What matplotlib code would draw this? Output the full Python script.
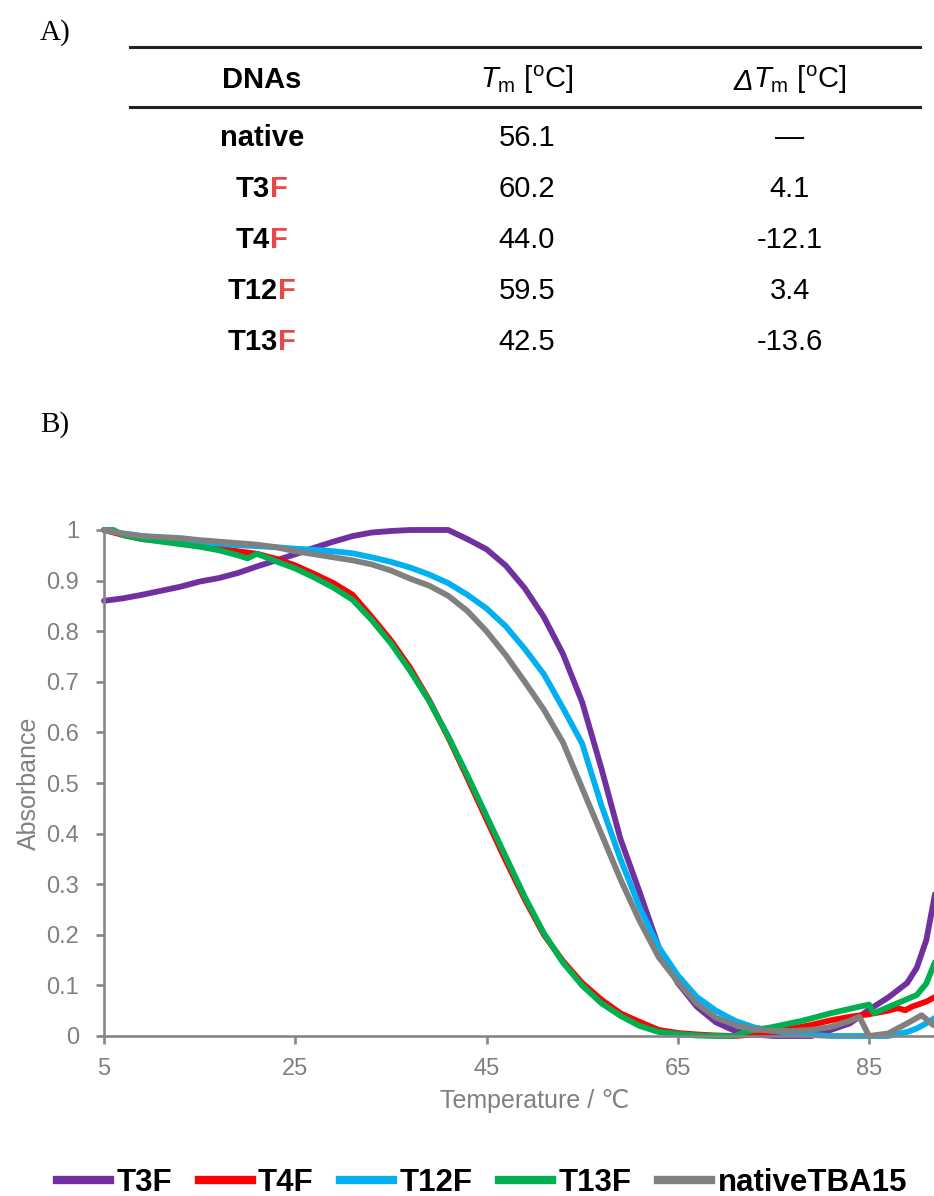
import matplotlib
matplotlib.use('Agg')
import matplotlib.pyplot as plt
from matplotlib.lines import Line2D
from matplotlib.text import Annotation

plt.rcParams['font.family'] = ['Liberation Sans', 'DejaVu Sans']
plt.rcParams['mathtext.fontset'] = 'custom'
plt.rcParams['mathtext.rm'] = 'Liberation Sans'
plt.rcParams['mathtext.it'] = 'Liberation Sans:italic'

# table (A)
dna_names = ['native', 'T3', 'T4', 'T12', 'T13']
dna_mod = ['', 'F', 'F', 'F', 'F']
tm_values = ['56.1', '60.2', '44.0', '59.5', '42.5']
dtm_values = ['\u2014', '4.1', '-12.1', '3.4', '-13.6']

# melting curves (B): temperature / absorbance
t3f_t = [5, 7, 9, 11, 13, 15, 17, 19, 21, 23, 25, 27, 29, 31, 33, 35, 37, 39, 41, 43, 45, 47, 49, 51,
         53, 55, 57, 59, 61, 63, 65, 67, 69, 71, 73, 75, 77, 79, 81, 83, 85, 87, 89, 90, 91, 91.5, 92]
t3f_a = [0.86, 0.865, 0.872, 0.88, 0.888, 0.898, 0.905, 0.915, 0.928, 0.94, 0.952, 0.965, 0.977, 0.988,
         0.995, 0.998, 1.0, 1.0, 1.0, 0.982, 0.962, 0.93, 0.885, 0.828, 0.755, 0.66, 0.53, 0.39, 0.285,
         0.176, 0.105, 0.058, 0.027, 0.01, 0.003, 0.0, 0.0, 0.0, 0.012, 0.025, 0.052, 0.076, 0.105, 0.135,
         0.19, 0.24, 0.29]

t4f_t = [5, 7, 9, 11, 13, 15, 17, 19, 21, 23, 25, 27, 29, 31, 33, 35, 37, 39, 41, 43, 45, 47, 49, 51,
         53, 55, 57, 59, 61, 63, 65, 67, 69, 71, 73, 75, 77, 79, 81, 83, 85, 87, 88, 88.8, 89.5, 91, 92]
t4f_a = [1.0, 0.99, 0.982, 0.979, 0.974, 0.97, 0.964, 0.958, 0.953, 0.943, 0.93, 0.913, 0.895, 0.872,
         0.828, 0.782, 0.728, 0.664, 0.59, 0.51, 0.428, 0.347, 0.27, 0.2, 0.148, 0.105, 0.072, 0.045,
         0.028, 0.012, 0.006, 0.003, 0.001, 0.0, 0.003, 0.008, 0.015, 0.022, 0.031, 0.038, 0.043, 0.05,
         0.055, 0.051, 0.058, 0.068, 0.078]

t12f_t = [5, 7, 9, 11, 13, 15, 17, 19, 21, 23, 25, 27, 29, 31, 33, 35, 37, 39, 41, 43, 45, 47, 49, 51,
          53, 55, 57, 59, 61, 63, 65, 67, 69, 71, 73, 75, 77, 79, 81, 83, 85, 87, 88, 89, 90, 91, 92]
t12f_a = [1.0, 0.993, 0.988, 0.984, 0.98, 0.976, 0.973, 0.97, 0.968, 0.966, 0.963, 0.961, 0.958, 0.954,
          0.946, 0.937, 0.926, 0.912, 0.895, 0.872, 0.845, 0.81, 0.765, 0.715, 0.648, 0.578, 0.457,
          0.35, 0.255, 0.176, 0.12, 0.077, 0.05, 0.03, 0.017, 0.01, 0.005, 0.002, 0.0, 0.0, 0.0, 0.0,
          0.004, 0.008, 0.015, 0.025, 0.037]

t13f_t = [5, 6, 7, 9, 11, 13, 15, 17, 19, 20, 21, 23, 25, 27, 29, 31, 33, 35, 37, 39, 41, 43, 45, 47,
          49, 51, 53, 55, 57, 59, 61, 63, 65, 67, 69, 71, 72, 75, 78, 81, 84, 85, 85.5, 88, 90, 91, 91.7, 92]
t13f_a = [1.0, 1.0, 0.99, 0.982, 0.977, 0.972, 0.967, 0.96, 0.95, 0.944, 0.953, 0.938, 0.924, 0.906,
          0.886, 0.862, 0.822, 0.776, 0.722, 0.662, 0.592, 0.515, 0.435, 0.355, 0.275, 0.203, 0.145,
          0.1, 0.065, 0.04, 0.02, 0.008, 0.004, 0.001, 0.0, 0.0, 0.008, 0.018, 0.03, 0.045, 0.058, 0.062,
          0.045, 0.065, 0.081, 0.104, 0.137, 0.15]

native_t = [5, 7, 9, 11, 13, 15, 17, 19, 21, 23, 25, 27, 29, 31, 33, 35, 37, 39, 41, 43, 45, 47, 49, 51,
            53, 55, 57, 59, 61, 63, 65, 67, 69, 71, 73, 75, 77, 79, 81, 83, 84, 85, 87, 89, 90.5, 91.7, 92]
native_a = [1.0, 0.993, 0.988, 0.986, 0.984, 0.98, 0.977, 0.974, 0.971, 0.966, 0.958, 0.952, 0.946, 0.94,
            0.932, 0.92, 0.904, 0.89, 0.87, 0.84, 0.8, 0.753, 0.7, 0.645, 0.58, 0.49, 0.4, 0.31, 0.228,
            0.156, 0.107, 0.064, 0.036, 0.022, 0.013, 0.01, 0.01, 0.012, 0.018, 0.03, 0.038, 0.0, 0.005,
            0.025, 0.041, 0.022, 0.02]

series = [('T3F', t3f_t, t3f_a, '#7030A0'),
          ('T4F', t4f_t, t4f_a, '#FF0000'),
          ('T12F', t12f_t, t12f_a, '#00B0F0'),
          ('T13F', t13f_t, t13f_a, '#00B050'),
          ('nativeTBA15', native_t, native_a, '#808080')]

W, H = 934, 1196
fig = plt.figure(figsize=(W / 100, H / 100), dpi=100)
renderer = fig.canvas.get_renderer()

def fx(px):
    return px / W

def fy(py):
    return 1 - py / H

# --- panel labels
fig.text(fx(40), fy(33), 'A)', family='Liberation Serif', size=21, va='center', ha='left')
fig.text(fx(40), fy(425), 'B)', family='Liberation Serif', size=21, va='center', ha='left')

# --- table
for yy in [47, 107]:
    fig.add_artist(Line2D([fx(130), fx(920)], [fy(yy), fy(yy)], color='#222222', lw=2.2))

col_x = [262, 527, 790]
head_y = 80
row_y = [138, 189, 240, 291, 342]
tsize = 21
tm_head = r'$\mathit{T}_\mathrm{m}$ [$^\mathrm{o}$C]'

fig.text(fx(col_x[0]), fy(head_y), 'DNAs', ha='center', va='center', size=tsize, weight='bold')
fig.text(fx(col_x[1]), fy(head_y), tm_head, ha='center', va='center', size=tsize)

# italic delta + T_m header, centred as one piece
d_txt = fig.text(0, fy(head_y), '\u0394', ha='left', va='baseline', size=tsize, style='italic', alpha=0)
r_txt = fig.text(0, fy(head_y), tm_head, ha='left', va='center', size=tsize, alpha=0)
wd = d_txt.get_window_extent(renderer).width
wr = r_txt.get_window_extent(renderer).width
start = col_x[2] - (wd + wr) / 2
r_txt.set_x(fx(start + wd))
r_txt.set_alpha(1)
fig.add_artist(Annotation('\u0394', xy=(0, 0), xycoords=r_txt, xytext=(-wd, 0.5),
                          textcoords='offset pixels', ha='left', va='bottom', size=tsize,
                          style='italic', annotation_clip=False))
d_txt.remove()

for name, mod, tm, dtm, yy in zip(dna_names, dna_mod, tm_values, dtm_values, row_y):
    full = fig.text(fx(col_x[0]), fy(yy), name + mod, ha='center', va='center', size=tsize,
                    weight='bold', alpha=0)
    x0 = full.get_window_extent(renderer).x0
    black = fig.text(x0 / W, fy(yy), name, ha='left', va='center', size=tsize, weight='bold')
    if mod:
        fig.add_artist(Annotation(mod, xy=(1, 0), xycoords=black, ha='left', va='bottom',
                                  size=tsize, weight='bold', color='#E8474B',
                                  annotation_clip=False))
    fig.text(fx(col_x[1]), fy(yy), tm, ha='center', va='center', size=tsize)
    fig.text(fx(col_x[2]), fy(yy), dtm, ha='center', va='center', size=tsize)

# --- melting curve plot
x_per = 9.5625
ax = fig.add_axes([fx(104), fy(1036), 90 * x_per / W, (1036 - 530) / H])
for label, tt, aa, col in series:
    ax.plot(tt, aa, color=col, lw=4.2, label=label, clip_on=False,
            solid_capstyle='round', solid_joinstyle='round')

ax.set_xlim(5, 95)
ax.set_ylim(0, 1)
ax.set_xticks([5, 25, 45, 65, 85])
ax.set_yticks([i / 10 for i in range(11)])
ax.set_yticklabels(['0'] + ['0.%d' % i for i in range(1, 10)] + ['1'])
for side in ['top', 'right']:
    ax.spines[side].set_visible(False)
for side in ['left', 'bottom']:
    ax.spines[side].set_color('#868686')
    ax.spines[side].set_linewidth(1.9)
ax.tick_params(direction='out', length=6, width=1.9, color='#868686', labelcolor='#808080',
               labelsize=17)
ax.tick_params(axis='y', pad=12)
ax.tick_params(axis='x', pad=10)
ax.set_xlabel('Temperature / \u2103', color='#808080', size=18, labelpad=6)
ax.set_ylabel('Absorbance', color='#808080', size=18, labelpad=4)

handles = [Line2D([0], [0], color=c, lw=6) for _, _, _, c in series]
fig.legend(handles, [s[0] for s in series], loc='lower center', bbox_to_anchor=(0.516, -0.025),
           ncol=5, frameon=False, handlelength=1.7, handletextpad=0.2, columnspacing=0.85,
           prop={'weight': 'bold', 'size': 22.5})

fig.savefig('out.png', dpi=100)
